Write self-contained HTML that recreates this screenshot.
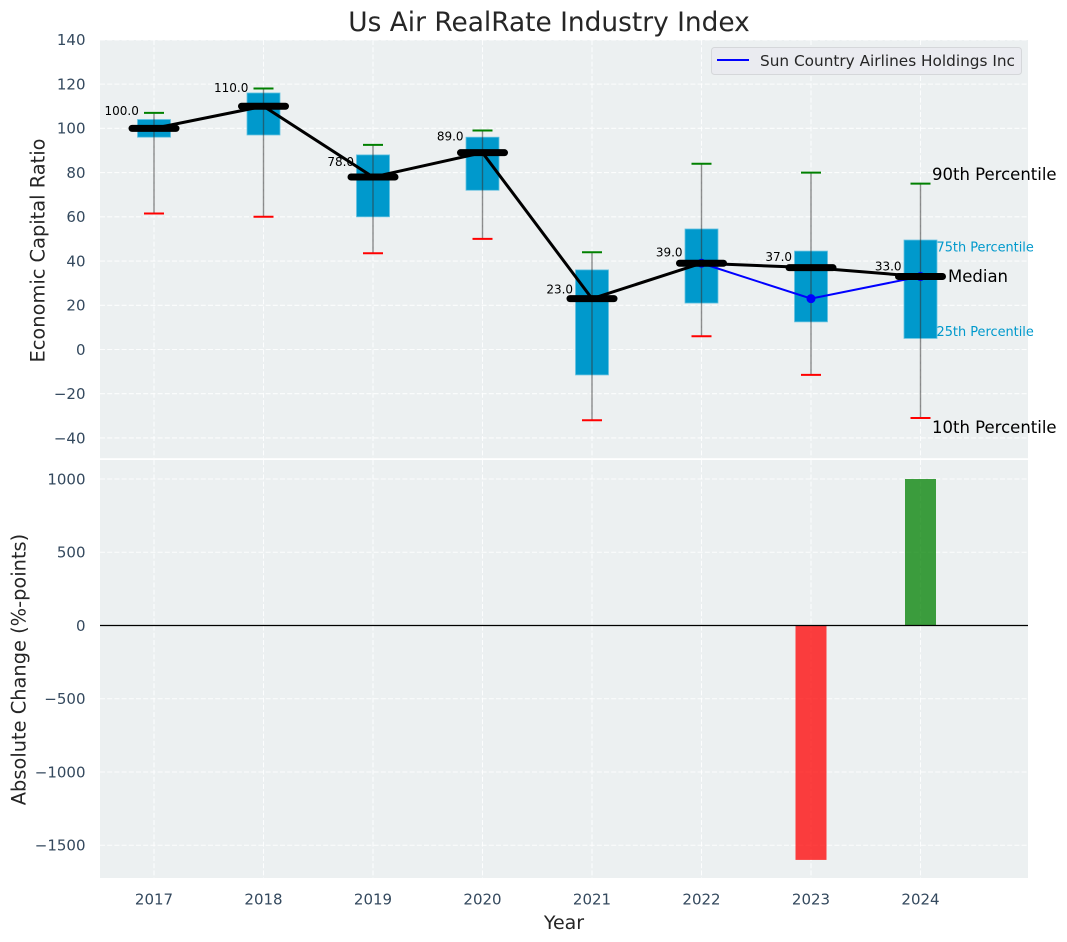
<!DOCTYPE html>
<html>
<head>
<meta charset="utf-8">
<style>
html,body{margin:0;padding:0;background:#fff;}
svg{display:block;font-family:"DejaVu Sans","Liberation Sans",sans-serif;}
</style>
</head>
<body>
<svg id="chart" xmlns="http://www.w3.org/2000/svg" width="1067" height="942" viewBox="0 0 1067 942">
<text x="549" y="31" font-size="26.4" fill="#262626" text-anchor="middle">Us Air RealRate Industry Index</text>
<rect x="100" y="40" width="928" height="418.2" fill="#ecf0f1"/>
<rect x="100" y="460" width="928" height="418" fill="#ecf0f1"/>
<g id="grid"></g>
<g id="topMarks"></g>
<g id="bottomMarks"></g>
<g id="tickLabels"></g>
<text transform="translate(44.5,250.5) rotate(-90)" font-size="19.4" fill="#262626" text-anchor="middle">Economic Capital Ratio</text>
<text transform="translate(25.5,669.5) rotate(-90)" font-size="19.4" fill="#262626" text-anchor="middle">Absolute Change (%-points)</text>
<text x="564" y="929" font-size="19" fill="#262626" text-anchor="middle">Year</text>
<g>
<rect x="711.5" y="47.5" width="310" height="27" rx="3" fill="#eaebf0" stroke="#d5d7da" stroke-width="1"/>
<line x1="717" y1="60" x2="749" y2="60" stroke="#0000ff" stroke-width="2"/>
<text x="760" y="66" font-size="15.3" fill="#262626">Sun Country Airlines Holdings Inc</text>
</g>
</svg>
<script>
const years = [2017, 2018, 2019, 2020, 2021, 2022, 2023, 2024];
const p90 = [107, 118, 92.5, 99, 44, 84, 80, 75];
const p75 = [104, 116, 88, 96, 36, 54.5, 44.5, 49.5];
const medians = [100, 110, 78, 89, 23, 39, 37, 33];
const p25 = [96, 97, 60, 72, -11.5, 21, 12.5, 5];
const p10 = [61.5, 60, 43.5, 50, -32, 6, -11.5, -31];
const companyYears = [2022, 2023, 2024];
const companyValues = [39, 23, 33];
const changeYears = [2023, 2024];
const changeValues = [-1600, 1000];
const topTicks = [140, 120, 100, 80, 60, 40, 20, 0, -20, -40];
const bottomTicks = [1000, 500, 0, -500, -1000, -1500];

const NS = 'http://www.w3.org/2000/svg';
const xScale = function (year) { return 154 + (year - 2017) * 109.5; };
const yTop = function (v) { return 349.5 - v * 2.2115; };
const yBottom = function (v) { return 625.5 - v * 0.1465; };
const fmt = function (v) { return String(v).replace('-', '\u2212'); };

function make(parent, tag, attrs, text) {
  const el = document.createElementNS(NS, tag);
  for (const k in attrs) el.setAttribute(k, attrs[k]);
  if (text !== undefined) el.textContent = text;
  parent.appendChild(el);
  return el;
}

const grid = document.getElementById('grid');
const top_ = document.getElementById('topMarks');
const bottom = document.getElementById('bottomMarks');
const labels = document.getElementById('tickLabels');
const gridStyle = { stroke: '#ffffff', 'stroke-width': 1.1, 'stroke-dasharray': '5 2.2', 'stroke-opacity': 0.85 };

topTicks.forEach(function (t) {
  const g = make(grid, 'line', Object.assign({ x1: 100, x2: 1028, y1: yTop(t), y2: yTop(t) }, gridStyle));
  
  
  const l = make(labels, 'text', { x: 85.5, y: yTop(t) + 5.3, 'font-size': 15, fill: '#34495e', 'text-anchor': 'end' }, fmt(t));
  
  
});

bottomTicks.forEach(function (t) {
  const g = make(grid, 'line', Object.assign({ x1: 100, x2: 1028, y1: yBottom(t), y2: yBottom(t) }, gridStyle));
  
  
  const l = make(labels, 'text', { x: 85.5, y: yBottom(t) + 5.3, 'font-size': 15, fill: '#34495e', 'text-anchor': 'end' }, fmt(t));
  
  
});

years.forEach(function (yr) {
  const a = make(grid, 'line', Object.assign({ x1: xScale(yr), x2: xScale(yr), y1: 40, y2: 458.2 }, gridStyle));
  
  
  const b = make(grid, 'line', Object.assign({ x1: xScale(yr), x2: xScale(yr), y1: 460, y2: 878 }, gridStyle));
  
  
  const l = make(labels, 'text', { x: xScale(yr), y: 904.5, 'font-size': 15, fill: '#34495e', 'text-anchor': 'middle' }, String(yr));
  
  
});

years.forEach(function (yr, i) {
  const x = xScale(yr);
  const box = make(top_, 'rect', { x: x - 16.5, y: yTop(p75[i]), width: 33, height: yTop(p25[i]) - yTop(p75[i]), fill: '#0099cc', stroke: '#66c2e0', 'stroke-width': 0.8 });
  
  
  const whisker = make(top_, 'line', { x1: x, x2: x, y1: yTop(p90[i]), y2: yTop(p10[i]), stroke: '#333333', 'stroke-opacity': 0.55, 'stroke-width': 1.4 });
  
  
  const hi = make(top_, 'line', { x1: x - 10, x2: x + 10, y1: yTop(p90[i]), y2: yTop(p90[i]), stroke: '#008000', 'stroke-width': 2 });
  
  
  const lo = make(top_, 'line', { x1: x - 10, x2: x + 10, y1: yTop(p10[i]), y2: yTop(p10[i]), stroke: '#ff0000', 'stroke-width': 2 });
  
  
});

const companyLine = make(top_, 'polyline', {
  points: companyYears.map(function (yr, i) { return xScale(yr) + ',' + yTop(companyValues[i]); }).join(' '),
  fill: 'none', stroke: '#0000ff', 'stroke-width': 2
});



companyYears.forEach(function (yr, i) {
  const dot = make(top_, 'circle', { cx: xScale(yr), cy: yTop(companyValues[i]), r: 4.5, fill: '#0000ff' });
  
  
});

const medianLine = make(top_, 'polyline', {
  points: years.map(function (yr, i) { return xScale(yr) + ',' + yTop(medians[i]); }).join(' '),
  fill: 'none', stroke: '#000000', 'stroke-width': 3
});



years.forEach(function (yr, i) {
  const x = xScale(yr);
  const y = yTop(medians[i]);
  const m = make(top_, 'line', { x1: x - 22, x2: x + 22, y1: y, y2: y, stroke: '#000000', 'stroke-width': 7, 'stroke-linecap': 'round' });
  
  
  const labelY = yTop(medians[i] * 1.047 + 3.3) + 4.5;
  const t = make(top_, 'text', { x: x - 32.3, y: labelY, 'font-size': 12, fill: '#000000', 'text-anchor': 'middle' }, medians[i].toFixed(1));
  
  
});

const last = years.length - 1;
const lastX = xScale(years[last]);
const a90 = make(top_, 'text', { x: lastX + 11.5, y: yTop(p90[last]) - 3.5, 'font-size': 16.5, fill: '#000000' }, '90th Percentile');


const a75 = make(top_, 'text', { x: lastX + 16, y: yTop(p75[last]) + 11.5, 'font-size': 12.9, fill: '#0099cc' }, '75th Percentile');


const aMed = make(top_, 'text', { x: lastX + 27.5, y: yTop(medians[last]) + 5.5, 'font-size': 16.5, fill: '#000000' }, 'Median');


const a25 = make(top_, 'text', { x: lastX + 16, y: yTop(p25[last]) - 2.5, 'font-size': 12.9, fill: '#0099cc' }, '25th Percentile');


const a10 = make(top_, 'text', { x: lastX + 11.5, y: yTop(p10[last]) + 15, 'font-size': 16.5, fill: '#000000' }, '10th Percentile');



changeYears.forEach(function (yr, i) {
  const v = changeValues[i];
  const y0 = yBottom(Math.max(v, 0));
  const y1 = yBottom(Math.min(v, 0));
  const bar = make(bottom, 'rect', { x: xScale(yr) - 15.5, y: y0, width: 31, height: y1 - y0, fill: v < 0 ? '#ff0000' : '#008000', 'fill-opacity': 0.75 });
  
  
});

const zero = make(bottom, 'line', { x1: 100, x2: 1028, y1: yBottom(0), y2: yBottom(0), stroke: '#000000', 'stroke-width': 1.2 });


</script>
</body>
</html>
